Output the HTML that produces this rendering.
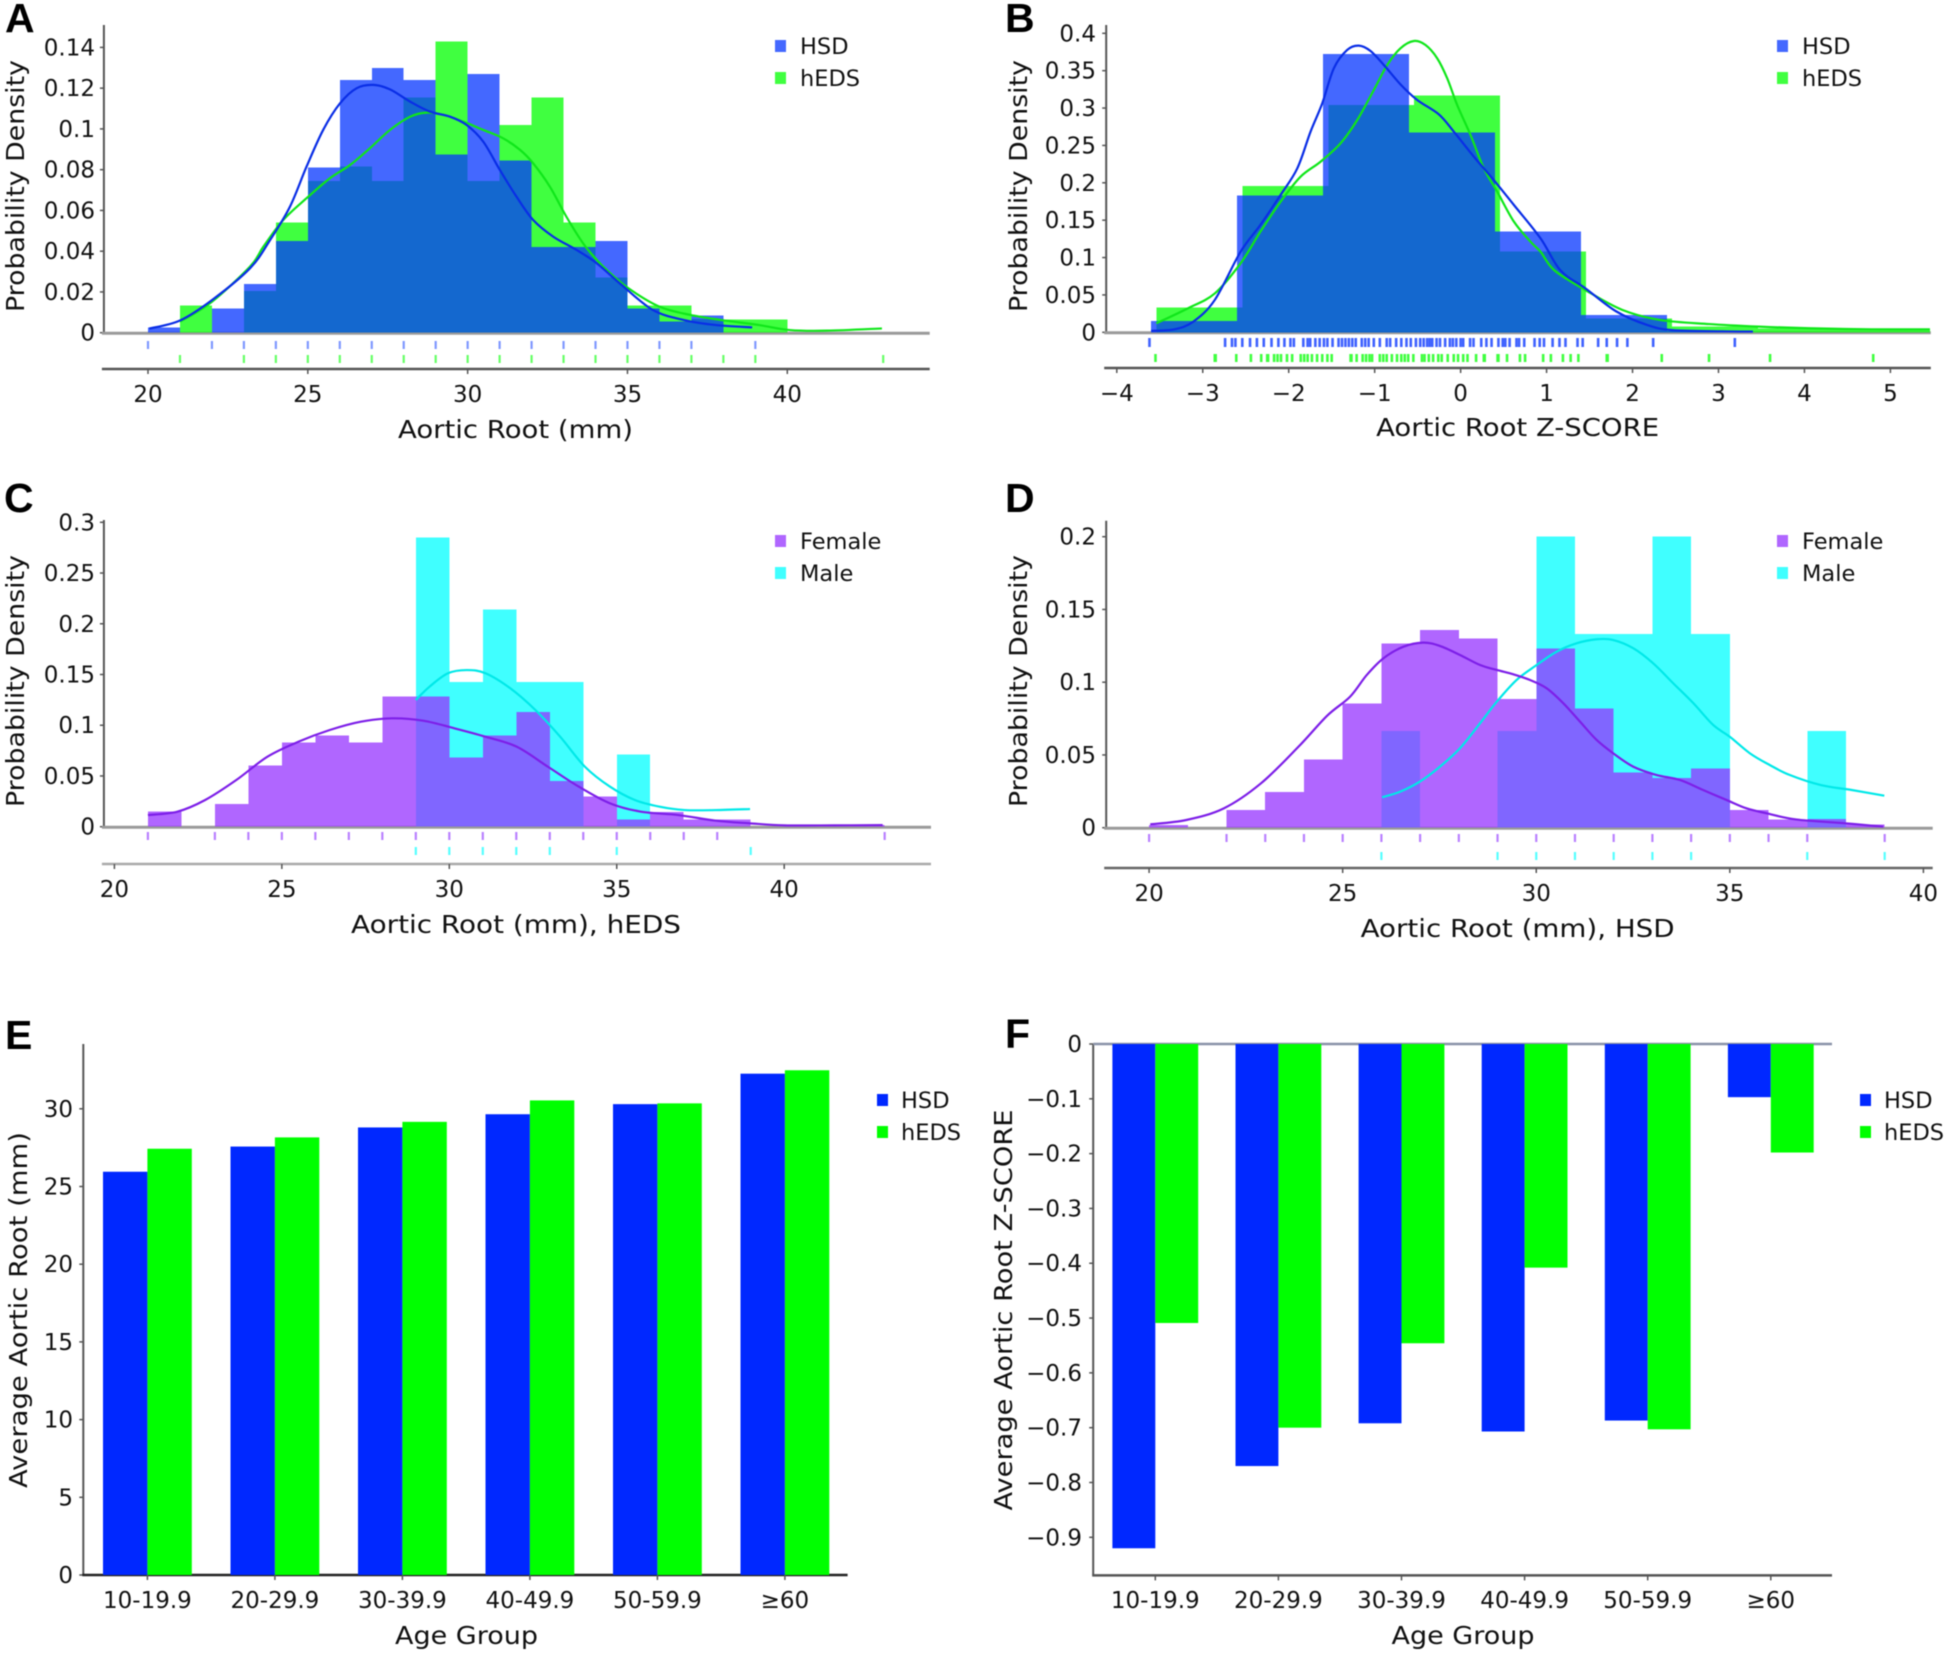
<!DOCTYPE html>
<html lang="en">
<head>
<meta charset="utf-8">
<title>Aortic root distributions in HSD and hEDS</title>
<style>
html,body{margin:0;padding:0;background:#fff;width:1950px;height:1657px;overflow:hidden}
#figure{display:block;filter:blur(.65px)}
text{font-family:"DejaVu Sans","Liberation Sans",sans-serif;fill:#111}
.letter{font-family:"Liberation Sans",sans-serif;font-weight:700;font-size:41px;fill:#000}
.tick{font-size:23px}
.title{font-size:24.5px}
.leg{font-size:22.5px}
</style>
</head>
<body>
<svg id="figure" xmlns="http://www.w3.org/2000/svg" width="1950" height="1657" viewBox="0 0 1950 1657">
  <rect width="1950" height="1657" fill="#fff"/>
  <g id="plots"></g>

  <text class="letter" x="5" y="32">A</text>
  <text class="letter" x="1005" y="32">B</text>
  <text class="letter" x="4" y="512">C</text>
  <text class="letter" x="1005" y="512">D</text>
  <text class="letter" x="5" y="1049">E</text>
  <text class="letter" x="1005" y="1048">F</text>

  <text class="title" x="515.5" y="438" text-anchor="middle" textLength="235" lengthAdjust="spacingAndGlyphs">Aortic Root (mm)</text>
  <text class="title" x="1517.6" y="436" text-anchor="middle" textLength="283" lengthAdjust="spacingAndGlyphs">Aortic Root Z-SCORE</text>
  <text class="title" x="516" y="933" text-anchor="middle" textLength="330" lengthAdjust="spacingAndGlyphs">Aortic Root (mm), hEDS</text>
  <text class="title" x="1517.6" y="937" text-anchor="middle" textLength="314" lengthAdjust="spacingAndGlyphs">Aortic Root (mm), HSD</text>
  <text class="title" x="466.5" y="1644" text-anchor="middle" textLength="143" lengthAdjust="spacingAndGlyphs">Age Group</text>
  <text class="title" x="1463" y="1644" text-anchor="middle" textLength="143" lengthAdjust="spacingAndGlyphs">Age Group</text>

  <text class="title" transform="translate(24,186) rotate(-90)" text-anchor="middle" textLength="252" lengthAdjust="spacingAndGlyphs">Probability Density</text>
  <text class="title" transform="translate(1027,186) rotate(-90)" text-anchor="middle" textLength="252" lengthAdjust="spacingAndGlyphs">Probability Density</text>
  <text class="title" transform="translate(24,681) rotate(-90)" text-anchor="middle" textLength="252" lengthAdjust="spacingAndGlyphs">Probability Density</text>
  <text class="title" transform="translate(1027,681) rotate(-90)" text-anchor="middle" textLength="252" lengthAdjust="spacingAndGlyphs">Probability Density</text>
  <text class="title" transform="translate(27,1310) rotate(-90)" text-anchor="middle" textLength="356" lengthAdjust="spacingAndGlyphs">Average Aortic Root (mm)</text>
  <text class="title" transform="translate(1012,1310) rotate(-90)" text-anchor="middle" textLength="401" lengthAdjust="spacingAndGlyphs">Average Aortic Root Z-SCORE</text>

  <g>
    <rect x="775" y="40" width="11" height="12" fill="#4468ff"/>
    <text class="leg" x="800" y="54">HSD</text>
    <rect x="775" y="72" width="11" height="12" fill="#40ff40"/>
    <text class="leg" x="800" y="86">hEDS</text>
  </g>
  <g>
    <rect x="1777" y="40" width="11" height="12" fill="#4468ff"/>
    <text class="leg" x="1802" y="54">HSD</text>
    <rect x="1777" y="72" width="11" height="12" fill="#40ff40"/>
    <text class="leg" x="1802" y="86">hEDS</text>
  </g>
  <g>
    <rect x="775" y="535" width="11" height="12" fill="#b066ff"/>
    <text class="leg" x="800" y="549">Female</text>
    <rect x="775" y="567" width="11" height="12" fill="#40ffff"/>
    <text class="leg" x="800" y="581">Male</text>
  </g>
  <g>
    <rect x="1777" y="535" width="11" height="12" fill="#b066ff"/>
    <text class="leg" x="1802" y="549">Female</text>
    <rect x="1777" y="567" width="11" height="12" fill="#40ffff"/>
    <text class="leg" x="1802" y="581">Male</text>
  </g>
  <g>
    <rect x="877" y="1094" width="11" height="12" fill="#0028ff"/>
    <text class="leg" x="901" y="1108">HSD</text>
    <rect x="877" y="1126" width="11" height="12" fill="#00ff00"/>
    <text class="leg" x="901" y="1140">hEDS</text>
  </g>
  <g>
    <rect x="1860" y="1094" width="11" height="12" fill="#0028ff"/>
    <text class="leg" x="1884" y="1108">HSD</text>
    <rect x="1860" y="1126" width="11" height="12" fill="#00ff00"/>
    <text class="leg" x="1884" y="1140">hEDS</text>
  </g>
</svg>

<script>
/* ---------- Panel A ---------- */
const aXTicks = ['20','25','30','35','40'];
const aYTicks = ['0','0.02','0.04','0.06','0.08','0.1','0.12','0.14'];
const aHsdBins = [0.0025,0,0.0118,0.0238,0.045,0.081,0.124,0.130,0.124,0.0875,0.127,0.0845,0.042,0.042,0.045,0.0118,0.0055,0.0085];
const aHedsBins = [0,0.0133,0,0.0205,0.054,0.0745,0.0815,0.0745,0.1155,0.143,0.0745,0.102,0.1155,0.054,0.027,0.0133,0.0133,0.0068,0.0065,0.0065];
const aHsdCurveX = [20.04,21,22,23.19,23.82,24.44,24.96,25.48,26.01,26.53,27.05,27.57,28.2,28.82,29.45,29.97,30.49,31.01,31.53,32.05,32.68,33.41,34.04,34.82,35.8,36.77,37.74,38.9];
const aHsdCurveY = [0.002,0.006,0.016,0.0316,0.0455,0.0618,0.0815,0.0995,0.1126,0.12,0.1216,0.1194,0.1134,0.1085,0.106,0.1019,0.0937,0.0798,0.0667,0.0553,0.0471,0.0406,0.0341,0.0234,0.0111,0.0062,0.0038,0.0026];
const aHedsCurveX = [21,22,23.19,23.61,24.23,24.96,25.69,26.32,26.94,27.57,28.2,28.72,29.24,29.86,30.49,31.11,31.64,32.05,32.57,33.09,33.61,34.04,34.35,35.03,36,36.97,37.95,39.1,40.08,41.25,42.96];
const aHedsCurveY = [0.0054,0.0152,0.0324,0.0422,0.0553,0.066,0.0758,0.0823,0.0905,0.0995,0.106,0.108,0.1069,0.1036,0.0995,0.0954,0.0897,0.0831,0.0717,0.0569,0.0439,0.0357,0.0308,0.0218,0.0128,0.0087,0.0062,0.0038,0.0013,0.001,0.0021];
const aHsdRug = [20,22,23,24,25,26,27,28,29,30,31,32,33,34,35,36,37,39];
const aHedsRug = [21,23,24,25,26,27,28,29,30,31,32,33,34,35,36,37,38,39,43];

/* ---------- Panel B ---------- */
const bXTicks = ['−4','−3','−2','−1','0','1','2','3','4','5'];
const bYTicks = ['0','0.05','0.1','0.15','0.2','0.25','0.3','0.35','0.4'];
const bHsdBins = [0.0152,0.183,0.372,0.267,0.135,0.023,0.002];
const bHedsBins = [0.0335,0.196,0.304,0.317,0.108,0.0187,0.008,0.005,0.0045];
const bHsdCurveX = [-3.6,-3.33,-3.11,-2.86,-2.56,-2.33,-2.095,-1.9,-1.746,-1.61,-1.475,-1.32,-1.184,-1.048,-0.893,-0.7,-0.505,-0.254,-0.079,0.154,0.386,0.62,0.93,1.16,1.45,1.81,2.17,2.46,3.04,3.4];
const bHsdCurveY = [0.002,0.004,0.0143,0.0433,0.1078,0.1435,0.1837,0.2194,0.2684,0.3063,0.3532,0.3777,0.3835,0.3763,0.3576,0.3317,0.3108,0.2916,0.2684,0.235,0.2037,0.1703,0.1257,0.083,0.059,0.028,0.0098,0.003,0.0013,0.001];
const bHedsCurveX = [-3.54,-3.18,-2.86,-2.56,-2.33,-2.095,-1.862,-1.63,-1.397,-1.203,-1.01,-0.854,-0.7,-0.544,-0.408,-0.272,-0.156,-0.04,0.115,0.27,0.426,0.62,0.813,0.93,1.09,1.45,1.88,2.32,2.89,3.47,4.05,4.78,5.46];
const bHedsCurveY = [0.012,0.0317,0.052,0.0923,0.1346,0.1747,0.2082,0.2282,0.2528,0.284,0.3241,0.3576,0.3799,0.3897,0.3843,0.3665,0.3398,0.3041,0.264,0.2194,0.1881,0.148,0.1212,0.1078,0.083,0.0566,0.03,0.0165,0.011,0.0076,0.0054,0.004,0.004];
const bHsdRug = [-3.62,-2.74,-2.66,-2.62,-2.54,-2.45,-2.37,-2.29,-2.2,-2.12,-2.05,-1.98,-1.94,-1.83,-1.78,-1.75,-1.69,-1.64,-1.59,-1.55,-1.49,-1.42,-1.38,-1.34,-1.3,-1.26,-1.22,-1.15,-1.11,-1.07,-1.01,-0.94,-0.86,-0.82,-0.75,-0.69,-0.63,-0.58,-0.52,-0.47,-0.43,-0.39,-0.36,-0.33,-0.28,-0.24,-0.18,-0.125,-0.09,-0.05,0,0.03,0.11,0.15,0.24,0.3,0.36,0.44,0.49,0.52,0.57,0.65,0.68,0.74,0.86,0.92,0.97,1.07,1.15,1.22,1.36,1.42,1.6,1.7,1.82,1.94,2.24,3.19];
const bHedsRug = [-3.55,-2.86,-2.85,-2.61,-2.44,-2.32,-2.25,-2.24,-2.17,-2.13,-2.09,-2.02,-1.96,-1.86,-1.82,-1.78,-1.73,-1.67,-1.61,-1.55,-1.5,-1.28,-1.27,-1.21,-1.14,-1.1,-1.06,-1.03,-0.94,-0.9,-0.86,-0.8,-0.74,-0.69,-0.65,-0.61,-0.55,-0.45,-0.42,-0.37,-0.32,-0.26,-0.22,-0.15,-0.08,-0.03,0.03,0.08,0.18,0.28,0.27,0.44,0.43,0.54,0.69,0.75,0.96,1.05,1.19,1.28,1.37,1.7,1.71,2.34,2.89,3.6,4.8];

/* ---------- Panel C ---------- */
const cXTicks = ['20','25','30','35','40'];
const cYTicks = ['0','0.05','0.1','0.15','0.2','0.25','0.3'];
const cFemaleBins = [0.0148,0,0.0223,0.0605,0.083,0.09,0.083,0.1285,0.1285,0.068,0.09,0.113,0.045,0.03,0.0069,0.0145,0.0072,0.0072,0,0,0,0.0015];
const cMaleBins = [0.285,0.1426,0.214,0.1426,0.1426,0,0.0713];
const cFemaleCurveX = [21,21.88,22.71,23.64,24.57,25.5,26.43,27.36,28.29,29.22,30.15,31.08,32.01,32.94,33.87,34.8,35.72,36.84,37.96,38.98,40,41.49,42.94];
const cFemaleCurveY = [0.0115,0.0148,0.0263,0.046,0.069,0.0838,0.0953,0.1035,0.1068,0.1045,0.097,0.0887,0.0789,0.0592,0.0394,0.023,0.0148,0.0115,0.0059,0.0033,0.0013,0.0013,0.0016];
const cMaleCurveX = [29,29.41,29.96,30.52,31.08,31.82,32.57,33.31,34.05,34.8,35.54,36.28,37.03,37.96,38.98];
const cMaleCurveY = [0.1249,0.138,0.1512,0.1544,0.1512,0.1364,0.115,0.0887,0.0591,0.0394,0.0263,0.0197,0.0164,0.0164,0.0174];
const cFemaleRug = [21,23,24,25,26,27,28,29,30,31,32,33,34,35,36,37,38,43];
const cMaleRug = [29,30,31,32,33,35,39];

/* ---------- Panel D ---------- */
const dXTicks = ['20','25','30','35','40'];
const dYTicks = ['0','0.05','0.1','0.15','0.2'];
const dFemaleBins = [0.0018,0,0.012,0.0247,0.047,0.0852,0.1265,0.136,0.13,0.0884,0.1233,0.082,0.0378,0.034,0.0408,0.012,0.0057,0.006,0.0023];
const dMaleBins = [0.0664,0,0,0.0664,0.2,0.133,0.133,0.2,0.133,0,0,0.0664];
const dFemaleCurveX = [20.03,20.96,21.93,22.89,23.86,24.6,25.19,25.62,26.05,26.57,27.08,27.51,28.03,28.55,28.98,29.41,29.84,30.27,30.7,31.13,31.56,31.99,32.51,33.11,33.71,34.31,34.92,35.43,35.95,36.71,37.99,38.96];
const dFemaleCurveY = [0.0023,0.0053,0.0133,0.0305,0.0557,0.077,0.09,0.1049,0.1164,0.1244,0.1272,0.1249,0.1187,0.1118,0.1084,0.1054,0.1015,0.0958,0.0855,0.0729,0.0603,0.0511,0.0419,0.0362,0.0328,0.0259,0.019,0.0133,0.0099,0.0057,0.003,0.0007];
const dMaleCurveX = [26.02,26.48,26.99,27.51,28.03,28.55,28.98,29.49,30.01,30.53,31.04,31.56,31.99,32.51,33.02,33.54,34.06,34.57,35,35.52,36.03,36.55,37.35,38.15,38.99];
const dMaleCurveY = [0.0209,0.0247,0.0316,0.0419,0.0546,0.0718,0.0866,0.1015,0.1118,0.121,0.1267,0.1295,0.129,0.1233,0.113,0.0992,0.0855,0.0706,0.0625,0.0511,0.0431,0.0362,0.0293,0.0259,0.022];
const dFemaleRug = [20,22,23,24,25,26,27,28,29,30,31,32,33,34,35,36,37,39];
const dMaleRug = [26,29,30,31,32,33,34,37,39];

/* ---------- Panels E and F ---------- */
const ageGroups = ['10-19.9','20-29.9','30-39.9','40-49.9','50-59.9','≥60'];
const eYTicks = ['0','5','10','15','20','25','30'];
const eHsdValues = [25.95,27.57,28.8,29.65,30.3,32.26];
const eHedsValues = [27.43,28.16,29.16,30.54,30.35,32.48];
const fYTicks = ['0','−0.1','−0.2','−0.3','−0.4','−0.5','−0.6','−0.7','−0.8','−0.9'];
const fHsdValues = [-0.92,-0.77,-0.692,-0.707,-0.687,-0.097];
const fHedsValues = [-0.509,-0.70,-0.546,-0.408,-0.703,-0.198];

const SVGNS = 'http://www.w3.org/2000/svg';
const plots = document.getElementById('plots');

function mk(tag, attrs, parent) {
  const el = document.createElementNS(SVGNS, tag);
  for (const k in attrs) el.setAttribute(k, attrs[k]);
  parent.appendChild(el);
  return el;
}
function num(label) { return parseFloat(label.replace('−', '-')); }
function linear(v0, p0, v1, p1) { return v => p0 + (v - v0) * (p1 - p0) / (v1 - v0); }

function smoothPath(xs, ys, sx, sy) {
  const P = xs.map((x, i) => [sx(x), sy(ys[i])]);
  let d = 'M' + P[0][0].toFixed(2) + ' ' + P[0][1].toFixed(2);
  for (let i = 0; i < P.length - 1; i++) {
    const p0 = P[Math.max(i - 1, 0)], p1 = P[i], p2 = P[i + 1], p3 = P[Math.min(i + 2, P.length - 1)];
    const c1x = p1[0] + (p2[0] - p0[0]) / 6, c1y = p1[1] + (p2[1] - p0[1]) / 6;
    const c2x = p2[0] - (p3[0] - p1[0]) / 6, c2y = p2[1] - (p3[1] - p1[1]) / 6;
    d += 'C' + [c1x, c1y, c2x, c2y, p2[0], p2[1]].map(n => n.toFixed(2)).join(' ');
  }
  return d;
}

function drawYAxis(g, id, labels, sy, x, top, bottom, labelX, color) {
  const axis = mk('line', {x1: x, x2: x, y1: top, y2: bottom, stroke: color, 'stroke-width': 2}, g);
  
  
  labels.forEach(lab => {
    const y = sy(num(lab));
    const tick = mk('line', {x1: x - 4, x2: x, y1: y, y2: y, stroke: color, 'stroke-width': 1.5}, g);
    
    
    const t = mk('text', {x: labelX, y: y + 8, 'text-anchor': 'end', class: 'tick'}, g);
    
    
    t.textContent = lab;
  });
}

function drawHistPanel(p) {
  const g = mk('g', {}, plots);
  
  
  const sx = linear(p.xDomain[0], p.xRange[0], p.xDomain[1], p.xRange[1]);
  const sy = linear(0, p.y0, p.yTop, p.yTopPx);

  drawYAxis(g, p.id, p.yTicks, sy, p.axisX, p.axisTop, p.y0, p.labelX, '#555');
  const base = mk('line', {x1: p.axisX - 2, x2: p.axisEnd, y1: p.y0 + 0.5, y2: p.y0 + 0.5, stroke: '#9a9a9a', 'stroke-width': 3}, g);
  
  

  const lower = mk('line', {x1: p.axisX - 2, x2: p.axisEnd, y1: p.lowerY, y2: p.lowerY, stroke: p.lowerColor, 'stroke-width': 2.5}, g);
  
  
  p.xTicks.forEach(lab => {
    const x = sx(num(lab));
    const tick = mk('line', {x1: x, x2: x, y1: p.lowerY, y2: p.lowerY + 5, stroke: '#555', 'stroke-width': 1.5}, g);
    
    
    const t = mk('text', {x: x, y: p.tickY, 'text-anchor': 'middle', class: 'tick'}, g);
    
    
    t.textContent = lab;
  });

  p.series.forEach(s => {
    s.bins.forEach((v, i) => {
      if (!v) return;
      const a = sx(s.start + i), b = sx(s.start + i + 1);
      const bar = mk('rect', {x: a, width: b - a, y: sy(v), height: p.y0 - sy(v), fill: s.fill, 'shape-rendering': 'crispEdges'}, g);
      
      
    });
  });
  p.series.forEach(s => {
    const c = mk('path', {d: smoothPath(s.curveX, s.curveY, sx, sy), fill: 'none', stroke: s.line, 'stroke-width': 2.2}, g);
    
    
  });
  p.series.forEach(s => {
    s.rug.forEach(v => {
      const x = sx(v);
      const r = mk('line', {x1: x, x2: x, y1: s.rugY[0], y2: s.rugY[1], stroke: s.rugColor, 'stroke-width': p.rugWidth}, g);
      
      
    });
  });
}

function drawBarPanel(p) {
  const g = mk('g', {}, plots);
  
  
  const sy = linear(0, p.y0, p.yRef, p.yRefPx);
  drawYAxis(g, p.id, p.yTicks, sy, p.axisX, p.axisTop, p.axisBottom, p.labelX, '#555');
  if (p.topLine) {
    const top = mk('line', {x1: p.axisX, x2: p.axisEnd, y1: p.y0, y2: p.y0, stroke: '#8a93a8', 'stroke-width': 2.5}, g);
    
    
  }
  const bottom = mk('line', {x1: p.axisX - 1, x2: p.axisEnd, y1: p.axisBottom, y2: p.axisBottom, stroke: p.bottomColor, 'stroke-width': 2.5}, g);
  
  
  ageGroups.forEach((lab, i) => {
    const cx = p.firstCenter + i * p.step;
    const tick = mk('line', {x1: cx, x2: cx, y1: p.axisBottom, y2: p.axisBottom + 5, stroke: '#555', 'stroke-width': 1.5}, g);
    
    
    const t = mk('text', {x: cx, y: p.tickY, 'text-anchor': 'middle', class: 'tick'}, g);
    
    
    t.textContent = lab;
    [[p.hsd[i], cx - p.barW, '#0028ff', 'hsd'], [p.heds[i], cx, '#00ff00', 'heds']].forEach(item => {
      const yv = sy(item[0]);
      const bar = mk('rect', {x: item[1], width: p.barW, y: Math.min(yv, p.y0), height: Math.abs(yv - p.y0), fill: item[2]}, g);
      
      
    });
  });
}

const BLUE = 'rgba(6,54,255,.75)', GREEN = 'rgba(0,255,0,.75)', PURPLE = 'rgba(150,51,255,.75)', CYAN = 'rgba(0,255,255,.75)';

drawHistPanel({
  id: 'a', xTicks: aXTicks, yTicks: aYTicks, xDomain: [20, 40], xRange: [148, 787.3], rugWidth: 2.2,
  y0: 332.7, yTop: 0.14, yTopPx: 47.4, axisX: 103.9, axisTop: 25, axisEnd: 929.7, labelX: 95,
  lowerY: 369, lowerColor: '#555', tickY: 402,
  series: [
    {name: 'heds', start: 20, bins: aHedsBins, curveX: aHedsCurveX, curveY: aHedsCurveY, rug: aHedsRug, fill: GREEN, line: '#10e61a', rugColor: '#66ff66', rugY: [355, 363]},
    {name: 'hsd', start: 20, bins: aHsdBins, curveX: aHsdCurveX, curveY: aHsdCurveY, rug: aHsdRug, fill: BLUE, line: '#0a2ee6', rugColor: '#7f98ff', rugY: [341, 349]}
  ]
});

drawHistPanel({
  id: 'b', xTicks: bXTicks, yTicks: bYTicks, xDomain: [-4, 5], xRange: [1116.8, 1890.4], rugWidth: 2.6,
  y0: 332.3, yTop: 0.4, yTopPx: 33.3, axisX: 1106.2, axisTop: 25, axisEnd: 1930.8, labelX: 1096,
  lowerY: 368, lowerColor: '#555', tickY: 401,
  series: [
    {name: 'heds', start: -3.54, bins: bHedsBins, curveX: bHedsCurveX, curveY: bHedsCurveY, rug: bHedsRug, fill: GREEN, line: '#10e61a', rugColor: '#40ff40', rugY: [354, 362]},
    {name: 'hsd', start: -3.6, bins: bHsdBins, curveX: bHsdCurveX, curveY: bHsdCurveY, rug: bHsdRug, fill: BLUE, line: '#0a2ee6', rugColor: '#3f62ff', rugY: [338, 347]}
  ]
});

drawHistPanel({
  id: 'c', xTicks: cXTicks, yTicks: cYTicks, xDomain: [20, 40], xRange: [114.4, 784.2], rugWidth: 2.2,
  y0: 826.7, yTop: 0.3, yTopPx: 522.3, axisX: 103.9, axisTop: 520, axisEnd: 931, labelX: 95,
  lowerY: 864, lowerColor: '#aaa', tickY: 897,
  series: [
    {name: 'male', start: 29, bins: cMaleBins, curveX: cMaleCurveX, curveY: cMaleCurveY, rug: cMaleRug, fill: CYAN, line: '#00e8e8', rugColor: '#55ffff', rugY: [847, 855]},
    {name: 'female', start: 21, bins: cFemaleBins, curveX: cFemaleCurveX, curveY: cFemaleCurveY, rug: cFemaleRug, fill: PURPLE, line: '#7d1fe8', rugColor: '#b980ff', rugY: [832, 840]}
  ]
});

drawHistPanel({
  id: 'd', xTicks: dXTicks, yTicks: dYTicks, xDomain: [20, 40], xRange: [1149.1, 1923.4], rugWidth: 2.2,
  y0: 827.7, yTop: 0.2, yTopPx: 536.7, axisX: 1106.2, axisTop: 520.7, axisEnd: 1932.7, labelX: 1096,
  lowerY: 868, lowerColor: '#666', tickY: 901,
  series: [
    {name: 'male', start: 26, bins: dMaleBins, curveX: dMaleCurveX, curveY: dMaleCurveY, rug: dMaleRug, fill: CYAN, line: '#00e8e8', rugColor: '#55ffff', rugY: [852, 860]},
    {name: 'female', start: 20, bins: dFemaleBins, curveX: dFemaleCurveX, curveY: dFemaleCurveY, rug: dFemaleRug, fill: PURPLE, line: '#7d1fe8', rugColor: '#b980ff', rugY: [834, 842]}
  ]
});

drawBarPanel({
  id: 'e', yTicks: eYTicks, y0: 1575, yRef: 30, yRefPx: 1108.8, axisX: 83.3, axisTop: 1044, axisBottom: 1575,
  axisEnd: 847.6, labelX: 73, firstCenter: 147.4, step: 127.5, barW: 44.4, tickY: 1608,
  hsd: eHsdValues, heds: eHedsValues, bottomColor: '#222', topLine: false
});

drawBarPanel({
  id: 'f', yTicks: fYTicks, y0: 1044, yRef: -0.9, yRefPx: 1537.3, axisX: 1093.2, axisTop: 1044, axisBottom: 1575.4,
  axisEnd: 1832, labelX: 1082, firstCenter: 1155.3, step: 123.1, barW: 42.9, tickY: 1608,
  hsd: fHsdValues, heds: fHedsValues, bottomColor: '#555', topLine: true
});
</script>
</body>
</html>
